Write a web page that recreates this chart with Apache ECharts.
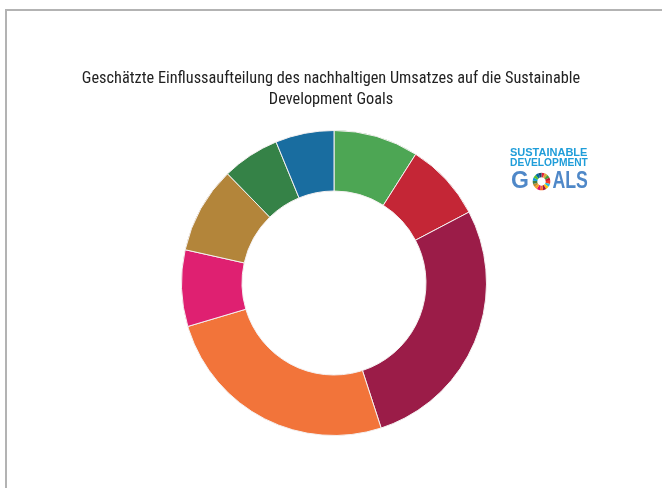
<!DOCTYPE html>
<html>
<head>
<meta charset="utf-8">
<script src="https://cdn.jsdelivr.net/npm/echarts@6/dist/echarts.min.js"></script>
<style>
html,body{margin:0;padding:0;background:#fff;}
#frame{position:absolute;left:5px;top:9px;width:700px;height:500px;border-left:2px solid #b3b3b3;border-top:2px solid #b3b3b3;}
#chart{position:absolute;left:0;top:0;width:662px;height:488px;}
</style>
</head>
<body>
<div id="frame"></div>
<div id="chart"></div>
<script>
const categories = ['SDG 3', 'SDG 4', 'SDG 8', 'SDG 9', 'SDG 10', 'SDG 12', 'SDG 13', 'SDG 16'];
const shares = [9.0, 8.3, 27.7, 25.4, 8.1, 9.2, 6.1, 6.2];
const sliceColors = ['#4DA654', '#C42636', '#9B1C48', '#F2743A', '#DF2071', '#B3853A', '#358247', '#196DA0'];
const titleText = 'Geschätzte Einflussaufteilung des nachhaltigen Umsatzes auf die Sustainable\nDevelopment Goals';
const wheelColors = ['#E5243B','#DDA63A','#4C9F38','#C5192D','#FF3A21','#26BDE2','#FCC30B','#A21942','#FD6925','#DD1367','#FD9D24','#BF8B2E','#3F7E44','#0A97D9','#56C02B','#00689D','#19486A'];

const chart = echarts.init(document.getElementById('chart'), null, {renderer: 'canvas'});

const wheel = wheelColors.map((c, i) => ({
  type: 'sector',
  shape: {cx: 541.5, cy: 181.5, r0: 4.2, r: 8.8, startAngle: -Math.PI/2 + i * 2 * Math.PI / 17, endAngle: -Math.PI/2 + (i + 1) * 2 * Math.PI / 17},
  style: {fill: c},
  silent: true
}));

chart.setOption({
  backgroundColor: 'transparent',
  animation: false,
  title: {
    text: titleText,
    left: 'center',
    top: 63.5,
    textStyle: {
      fontFamily: '"Liberation Sans Narrow", "Roboto Condensed", sans-serif',
      fontSize: 16.3,
      fontWeight: 'normal',
      color: '#222',
      lineHeight: 21
    }
  },
  graphic: [
    {type: 'text', left: 510, top: 147.5, style: {text: 'SUSTAINABLE', fill: '#1F9DD9', font: 'bold 11px "Liberation Sans", Arial, sans-serif'}},
    {type: 'text', left: 510, top: 157.5, scaleX: 0.93, style: {text: 'DEVELOPMENT', fill: '#1F9DD9', font: 'bold 11px "Liberation Sans", Arial, sans-serif'}},
    {type: 'text', x: 511, y: 170, scaleX: 1, style: {text: 'G', fill: '#4F88C8', font: 'bold 23px "Liberation Sans", sans-serif'}},
    {type: 'text', x: 552.5, y: 170, scaleX: 0.77, style: {text: 'ALS', fill: '#4F88C8', font: 'bold 23px "Liberation Sans", sans-serif'}},
    ...wheel
  ],
  series: [{
    type: 'pie',
    center: [334, 283],
    radius: [92, 152.5],
    startAngle: 90,
    clockwise: true,
    label: {show: false},
    labelLine: {show: false},
    emphasis: {disabled: true},
    itemStyle: {borderColor: '#f4f0f0', borderWidth: 1},
    data: categories.map((n, i) => ({name: n, value: shares[i], itemStyle: {color: sliceColors[i]}}))
  }]
});
</script>
</body>
</html>
